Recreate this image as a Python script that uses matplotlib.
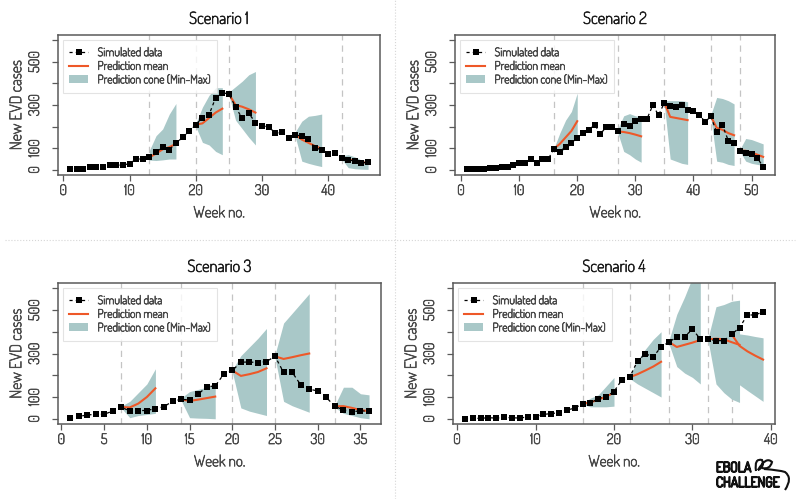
import matplotlib
matplotlib.use("Agg")
import matplotlib.pyplot as plt
import matplotlib.patheffects as pe
import numpy as np
from matplotlib.lines import Line2D
from matplotlib.patches import Patch, PathPatch
from matplotlib.path import Path
from matplotlib.text import Text

plt.rcParams['font.family'] = ['Dosis', 'Liberation Sans Narrow', 'Lato', 'DejaVu Sans']

# ---- data (weekly new cases) ----
cases_1 = [5, 5, 5, 12, 11, 11, 20, 20, 23, 28,
           50, 50, 58, 81, 104, 94, 123, 150, 178, 209,
           242, 255, 334, 357, 351, 291, 238, 261, 219, 204,
           199, 170, 173, 146, 163, 155, 143, 100, 94, 75,
           77, 57, 44, 43, 32, 35]
origins_1 = [13, 20, 25, 35, 42]
mean_1 = [[58, 75, 95, 105, 120], [209, 215, 240, 265, 283], [351, 300, 292, 280, 265],
          [163, 140, 125, 110, 98], [57, 48, 42, 35, 33]]
hi_1 = [[90, 158, 189, 258, 307], [215, 290, 345, 380, 380], [360, 385, 410, 440, 455],
        [175, 225, 248, 252, 258], [65, 70, 60, 45, 45]]
lo_1 = [[45, 43, 46, 50, 50], [200, 127, 115, 85, 70], [345, 230, 190, 150, 115],
        [155, 40, 30, 22, 15], [50, 10, 5, 3, 2]]

cases_2 = [3, 3, 5, 5, 9, 9, 15, 12, 23, 31,
           31, 50, 32, 50, 50, 97, 84, 107, 123, 146,
           170, 184, 209, 166, 199, 196, 178, 212, 204, 224,
           235, 235, 299, 253, 311, 296, 293, 299, 276, 273,
           255, 222, 247, 173, 207, 135, 124, 89, 78, 71,
           54, 15]
origins_2 = [16, 27, 35, 43, 48]
mean_2 = [[97, 120, 150, 180, 225], [178, 175, 170, 163, 155], [311, 245, 240, 235, 230],
          [247, 195, 185, 170, 160], [89, 88, 80, 70, 60]]
hi_2 = [[100, 170, 230, 270, 355], [190, 250, 260, 250, 245], [320, 320, 320, 320, 315],
        [255, 335, 330, 320, 305], [95, 145, 140, 130, 120]]
lo_2 = [[95, 80, 100, 118, 165], [170, 85, 70, 50, 35], [300, 50, 40, 30, 25],
        [240, 40, 35, 25, 20], [85, 40, 30, 25, 20]]

cases_3 = [2, 11, 17, 21, 21, 35, 54, 35, 38, 38,
           47, 55, 81, 89, 87, 113, 147, 151, 205, 222,
           260, 261, 258, 263, 287, 213, 214, 156, 136, 128,
           98, 57, 41, 32, 37, 34]
origins_3 = [7, 14, 20, 25, 32]
mean_3 = [[54, 52, 70, 100, 140], [89, 82, 88, 95, 102], [222, 197, 205, 215, 232],
          [287, 275, 283, 292, 300], [57, 58, 50, 40, 35]]
hi_3 = [[58, 80, 120, 160, 230], [95, 125, 135, 145, 155], [225, 290, 330, 370, 415],
        [295, 440, 485, 530, 575], [62, 145, 145, 115, 110]]
lo_3 = [[50, 5, 15, 20, 25], [85, 5, 3, 2, 0], [215, 50, 35, 25, 15],
        [280, 80, 60, 45, 30], [52, 25, 15, 5, 0]]

cases_4 = [0, 2, 2, 5, 3, 6, 5, 3, 9, 9,
           20, 24, 28, 40, 49, 69, 72, 93, 102, 125,
           179, 191, 266, 298, 286, 329, 353, 375, 378, 411,
           367, 365, 359, 359, 388, 419, 477, 477, 492]
origins_4 = [16, 22, 27, 32, 35]
mean_4 = [[69, 75, 88, 102, 120], [191, 205, 222, 240, 262], [353, 330, 340, 350, 362],
          [365, 368, 365, 352, 340], [388, 335, 310, 290, 272]]
hi_4 = [[72, 95, 110, 150, 190], [195, 270, 320, 365, 400], [360, 480, 560, 650, 720],
        [372, 515, 525, 540, 545], [395, 390, 385, 378, 372]]
lo_4 = [[66, 55, 55, 55, 58], [185, 160, 140, 120, 100], [345, 240, 210, 190, 160],
        [358, 160, 120, 90, 75], [380, 156, 130, 105, 80]]

titles = ["Scenario 1", "Scenario 2", "Scenario 3", "Scenario 4"]
xticks = [[0, 10, 20, 30, 40], [0, 10, 20, 30, 40, 50],
          [0, 5, 10, 15, 20, 25, 30, 35], [0, 10, 20, 30, 40]]
yticks = [0, 100, 200, 300, 400, 500, 600]
ytick_labels = ["0", "100", "", "300", "", "500", ""]

scenarios = [
    (cases_1, origins_1, mean_1, lo_1, hi_1),
    (cases_2, origins_2, mean_2, lo_2, hi_2),
    (cases_3, origins_3, mean_3, lo_3, hi_3),
    (cases_4, origins_4, mean_4, lo_4, hi_4),
]

CONE = "#a9c8c8"
MEAN = "#ee5828"
GREY = "#5a5a5a"
TXT = "#4a4a4a"

W, H = 800, 499
fig = plt.figure(figsize=(W / 100, H / 100), dpi=100)

# axes boxes in pixels: left, top, right, bottom
boxes = [(58, 35, 380, 175), (455, 35, 775, 175),
         (58, 283, 381, 424), (453, 283, 775, 424)]

for i, (cases, origins, means, los, his) in enumerate(scenarios):
    l, t, r, b = boxes[i]
    ax = fig.add_axes([l / W, (H - b) / H, (r - l) / W, (b - t) / H])
    weeks = np.arange(1, len(cases) + 1)
    n = len(cases)
    ax.set_xlim(1 - 0.04 * (n - 1), n + 0.04 * (n - 1))
    ax.set_ylim(-24, 624)

    for o in origins:
        ax.axvline(o, color="#c4c4c4", lw=0.9, ls=(0, (5, 4)), zorder=1)

    for o, m, lo, hi in zip(origins, means, los, his):
        fw = np.arange(o, o + len(m))
        ax.fill_between(fw, lo, hi, color=CONE, lw=0, zorder=2)
        ax.plot(fw, m, color=MEAN, lw=1.5, zorder=3)

    ax.plot(weeks, cases, color="black", lw=0.9, ls=(0, (2.5, 2.5)),
            marker="s", ms=4.4, mew=0, zorder=4)

    for s in ax.spines.values():
        s.set_color(GREY)
        s.set_linewidth(1.1)
    ax.set_xticks(xticks[i])
    ax.set_yticks(yticks)
    ax.set_yticklabels(ytick_labels)
    ax.tick_params(direction="out", length=4.5, width=0.9, color=GREY,
                   labelcolor=TXT, labelsize=10.5)
    ax.tick_params(axis="x", pad=2)
    ax.tick_params(axis="y", pad=7)
    for lab in ax.get_yticklabels():
        lab.set_rotation(90)
        lab.set_va("center")

    ax.set_title(titles[i], fontsize=12, color="#1e1e1e", pad=8)
    ax.set_xlabel("Week no.", fontsize=11, color=TXT, labelpad=6)
    ax.set_ylabel("New EVD cases", fontsize=11.5, color=TXT, labelpad=2)

    handles = [
        Line2D([], [], color="black", lw=0.9, ls=(0, (2.5, 2.5)), marker="s", ms=4.4, mew=0),
        Line2D([], [], color=MEAN, lw=1.5),
        Patch(facecolor=CONE, edgecolor="none"),
    ]
    leg = ax.legend(handles, ["Simulated data", "Prediction mean", "Prediction cone (Min-Max)"],
                    loc="upper left", fontsize=8.5, frameon=True, fancybox=False,
                    borderpad=0.55, handlelength=1.6, handletextpad=0.8,
                    labelspacing=0.05, borderaxespad=0.4, labelcolor=TXT)
    leg.get_frame().set_edgecolor("#dddddd")
    leg.get_frame().set_linewidth(0.8)

# dotted separators between panels
fig.add_artist(Line2D([395 / W, 395 / W], [0.0, 1.0], color="#d6d6d6", lw=0.8, ls=":"))
fig.add_artist(Line2D([5 / W, 795 / W], [(H - 240) / H, (H - 240) / H],
                      color="#d6d6d6", lw=0.8, ls=":"))

# thicken the light font strokes a little
for txt in fig.findobj(Text):
    txt.set_path_effects([pe.Stroke(linewidth=0.5), pe.Normal()])

# logo
logo_fx = [pe.Stroke(linewidth=1.2), pe.Normal()]
fig.text(716 / W, (H - 468) / H, "EBOLA", fontsize=10, color="#111111",
         va="center", ha="left", path_effects=logo_fx)
fig.text(716 / W, (H - 483) / H, "CHALLENGE", fontsize=10, color="#111111",
         va="center", ha="left", path_effects=logo_fx)


def fp(x, y):
    return (x / W, (H - y) / H)


# small ribbon loops and the closing curve of the logo
ribbon = Path([fp(756, 471), fp(754, 458), fp(762, 460), fp(765, 467), fp(758, 470),
               fp(766, 456), fp(772, 462), fp(770, 470), fp(762, 468)],
              [Path.MOVETO, Path.CURVE3, Path.CURVE3, Path.CURVE3, Path.CURVE3,
               Path.CURVE3, Path.CURVE3, Path.CURVE3, Path.CURVE3])
fig.add_artist(PathPatch(ribbon, fill=False, lw=1.5, color="#111111",
                         transform=fig.transFigure))
bracket = Path([fp(764, 469), fp(779, 470), fp(785, 472), fp(793, 478), fp(785, 490)],
               [Path.MOVETO, Path.CURVE3, Path.CURVE3, Path.CURVE3, Path.CURVE3])
fig.add_artist(PathPatch(bracket, fill=False, lw=1.5, color="#111111",
                         transform=fig.transFigure))

fig.savefig("out.png", dpi=100)
